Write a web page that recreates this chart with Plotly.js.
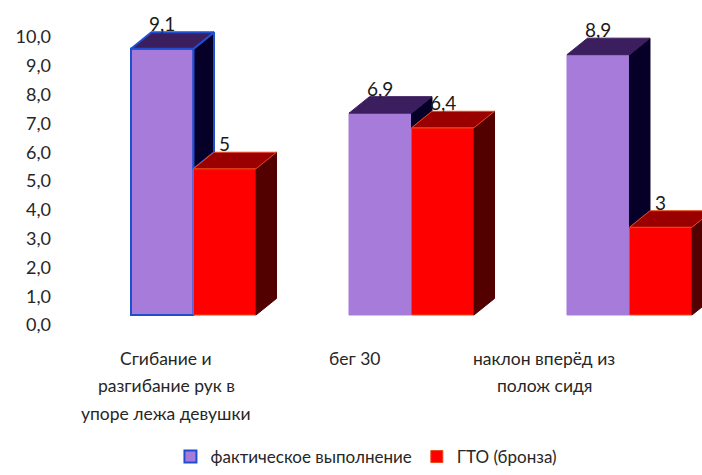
<!DOCTYPE html>
<html>
<head>
<meta charset="utf-8">
<script src="https://cdn.plot.ly/plotly-3.0.1.min.js"></script>
<style>html,body{margin:0;padding:0;background:#fff;}#chart{width:702px;height:475px;}</style>
</head>
<body>
<div id="chart"></div>
<script>
// ---- data ----
const categories = ['Сгибание и разгибание рук в упоре лежа девушки', 'бег 30', 'наклон вперёд из полож сидя'];
const tickLabels = ['Сгибание и<br>разгибание рук в<br>упоре лежа девушки', 'бег 30', 'наклон вперёд из<br>полож сидя'];
const actual = [9.1, 6.9, 8.9];
const gto = [5, 6.4, 3];
const seriesNames = ['фактическое выполнение', 'ГТО (бронза)'];
const yTicks = [0, 1, 2, 3, 4, 5, 6, 7, 8, 9, 10];

// ---- styling / geometry ----
const FONT = 'Lato, Roboto, "Open Sans", sans-serif';
const W = 0.2867;      // bar width in category units
const DX = 0.094;      // depth offset (x, category units)
const DY = 0.564;      // depth offset (y, value units)
const colors = {
  front: ['#A67BDA', '#FF0000'],
  top: ['#3B1E5E', '#9A0000'],
  side: ['#060028', '#520000'],
  edge: ['#A67BDA', '#E84A1A']
};
const highlightEdge = '#1F4FD0';

const idx = categories.map((_, i) => i);
const series = [actual, gto];
const traces = [];

// axis carriers (no visible marks) so the label axes are drawn
traces.push({type: 'scatter', mode: 'markers', x: idx, y: idx.map(() => null), xaxis: 'x', yaxis: 'y', showlegend: false, hoverinfo: 'skip'});
traces.push({type: 'scatter', mode: 'markers', x: idx, y: idx.map(() => null), xaxis: 'x2', yaxis: 'y', showlegend: false, hoverinfo: 'skip'});

// front faces as real bars
series.forEach((vals, s) => {
  traces.push({
    type: 'bar', name: seriesNames[s], x: idx, y: vals,
    xaxis: 'x', yaxis: 'y2',
    width: W, offset: s === 0 ? -W : 0,
    marker: {
      color: colors.front[s],
      line: {color: vals.map((_, i) => (s === 0 && i === 0) ? highlightEdge : colors.edge[s]), width: vals.map((_, i) => (s === 0 && i === 0) ? 2 : 1)}
    },
    hoverinfo: 'skip'
  });
});

// 3D faces (top + side) derived from the same values
series.forEach((vals, s) => {
  vals.forEach((v, i) => {
    const x0 = i + (s === 0 ? -W : 0);
    const x1 = x0 + W;
    const edge = (s === 0 && i === 0) ? highlightEdge : (s === 0 ? colors.top[0] : colors.edge[1]);
    const ew = (s === 0 && i === 0) ? 2 : 1;
    const bottom = s === 0 ? Math.min(v, series[1][i]) : 0;
    if (v > bottom) {
      traces.push({
        type: 'scatter', mode: 'lines', xaxis: 'x', yaxis: 'y2',
        x: [x1, x1, x1 + DX, x1 + DX, x1],
        y: [bottom, v, v + DY, bottom + DY, bottom],
        fill: 'toself', fillcolor: colors.side[s],
        line: {color: (s === 0 && i === 0) ? highlightEdge : colors.side[s], width: ew},
        showlegend: false, hoverinfo: 'skip'
      });
    }
    traces.push({
      type: 'scatter', mode: 'lines', xaxis: 'x', yaxis: 'y2',
      x: [x0, x1, x1 + DX, x0 + DX, x0],
      y: [v, v, v + DY, v + DY, v],
      fill: 'toself', fillcolor: colors.top[s],
      line: {color: edge, width: ew},
      showlegend: false, hoverinfo: 'skip'
    });
  });
});

const fmt = v => String(v).replace('.', ',');
const annotations = [];
series.forEach((vals, s) => {
  vals.forEach((v, i) => {
    annotations.push({
      xref: 'x', yref: 'y2', x: i + (s === 0 ? -W / 2 : W / 2), y: v,
      text: fmt(v), showarrow: false, yshift: 25, yanchor: 'middle',
      font: {family: FONT, size: 19, color: '#1a1a1a'}
    });
  });
});
// category labels (one line each, Excel-like line spacing)
tickLabels.forEach((lbl, i) => {
  lbl.split('<br>').forEach((line, k) => {
    annotations.push({
      xref: 'x2', yref: 'paper', x: i, y: 0, text: line, showarrow: false,
      yanchor: 'middle', xanchor: 'center', yshift: -23 - 27.5 * k,
      font: {family: FONT, size: 17.5, color: '#262626'}
    });
  });
});

const layout = {
  width: 702, height: 475,
  margin: {l: 60, r: 0, t: 20, b: 140, autoexpand: false},
  paper_bgcolor: '#fff', plot_bgcolor: '#fff',
  separators: ', ',
  barmode: 'overlay',
  font: {family: FONT, size: 18, color: '#262626'},
  showlegend: true,
  legend: {
    orientation: 'h', xref: 'container', yref: 'container',
    x: 0.522, xanchor: 'center', y: -0.02, yanchor: 'bottom',
    font: {family: FONT, size: 17, color: '#262626'}, itemwidth: 30, traceorder: 'normal'
  },
  xaxis: {
    range: [-0.6124, 2.3326], showticklabels: false, showgrid: false,
    zeroline: false, showline: false, ticks: '', fixedrange: true
  },
  xaxis2: {
    overlaying: 'x', anchor: 'y', side: 'bottom',
    range: [-0.561, 2.836], showticklabels: false,
    showgrid: false, zeroline: false, showline: false, ticks: '', fixedrange: true
  },
  yaxis: {
    range: [-0.347, 10.59], tickmode: 'array', tickvals: yTicks,
    ticktext: yTicks.map(v => v.toFixed(1).replace('.', ',')),
    showgrid: false, zeroline: false, showline: false, ticks: '', ticklabelstandoff: 8,
    tickfont: {family: FONT, size: 18, color: '#262626'}, fixedrange: true
  },
  yaxis2: {
    overlaying: 'y', anchor: 'x', range: [-0.684, 10.085], visible: false, fixedrange: true
  },
  annotations: annotations
};

Plotly.newPlot('chart', traces, layout, {displayModeBar: false, staticPlot: true});
</script>
</body>
</html>
